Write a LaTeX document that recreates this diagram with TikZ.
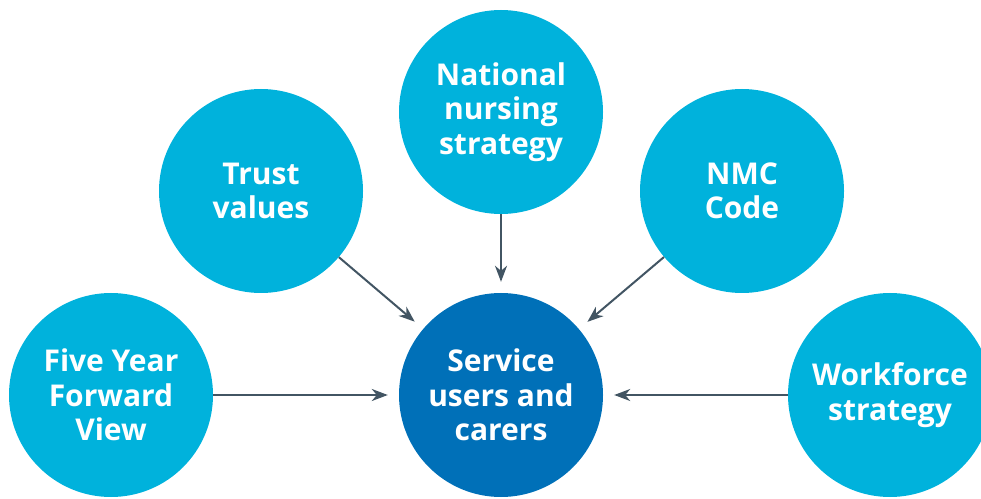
\documentclass[tikz,border=0pt]{standalone}
\usepackage{fontspec}
\setmainfont{Open Sans}
\usepackage[usenames,dvipsnames,svgnames,table]{xcolor}
\usepackage{tikz}
\usetikzlibrary{arrows,arrows.meta}

\definecolor{bubble}{HTML}{00B2DC}
\definecolor{hub}{HTML}{0070B8}
\definecolor{link}{HTML}{425563}

\tikzset{
	topic/.style={circle, fill=bubble, minimum size=204pt, inner sep=0pt, text=white,
		align=center, font=\bfseries\fontsize{30}{34.5}\selectfont},
	feed/.style={-{Stealth[length=16pt,width=12pt,inset=5pt]}, line width=2pt, link, shorten >=11pt}
}

\begin{document}
\begin{tikzpicture}[x=1pt,y=1pt]
			\useasboundingbox (0,0) rectangle (981,498);
			\clip (0,0) rectangle (981,498);
			
			\node[topic, fill=hub] (users) at (501,103) {Service\\users and\\carers};
			
			\node[topic] (national) at (501,386) {National\\nursing\\strategy};
			\node[topic] (trust) at (261,307) {Trust\\values};
			\node[topic] (nmc) at (742,307) {NMC\\Code};
			\node[topic] (fyfv) at (111,103) {Five Year\\Forward\\View};
			\node[topic] (workforce) at (890,103) {Workforce\\strategy};
			
			\draw [feed] (national) -- (users);
			\draw [feed] (trust) -- (users);
			\draw [feed] (nmc) -- (users);
			\draw [feed] (fyfv) -- (users);
			\draw [feed] (workforce) -- (users);
		\end{tikzpicture}
\end{document}
